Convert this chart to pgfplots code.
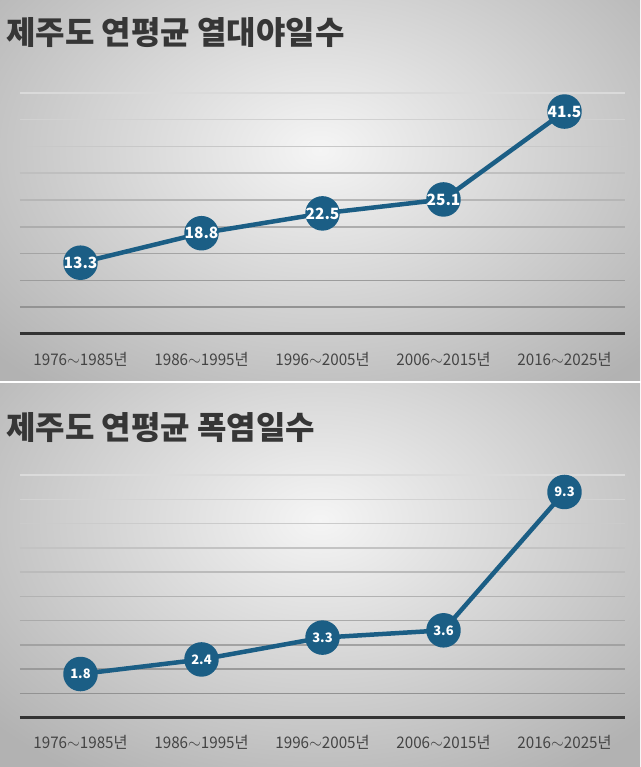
\documentclass[border=0pt]{standalone}
\usepackage{pgfplots}
\pgfplotsset{compat=1.18}
\usepackage{fontspec}
\setmainfont{Noto Sans CJK KR}

\definecolor{linecol}{HTML}{1B5E85}
\definecolor{titlecol}{HTML}{363636}
\definecolor{labelcol}{HTML}{444444}

\pgfplotsset{
  panel/.style={
    scale only axis,
    width=605pt,
    xmin=-0.5, xmax=4.5, ymin=0,
    axis x line=bottom,
    axis y line=none,
    axis line style={draw=black!80, line width=3pt, -},
    major tick length=0pt,
    xtick={0,1,2,3,4},
    xticklabels={1976$\sim$1985년,1986$\sim$1995년,1996$\sim$2005년,2006$\sim$2015년,2016$\sim$2025년},
    xticklabel style={font=\fontsize{16}{19}\selectfont, color=labelcol, anchor=center, yshift=-25pt, xscale=0.95},
    ytick=\empty,
    clip=false,
    nodes near coords,
    every node near coord/.append style={anchor=center, text=white, font=\bfseries\fontsize{#1}{#1}\selectfont},
    /pgf/number format/fixed,
    /pgf/number format/precision=1,
    /pgf/number format/fixed zerofill,
    /pgf/number format/assume math mode=true,
  },
  series/.style={color=linecol, line width=4.5pt, line join=round,
    mark=*, mark size=15pt, mark options={fill=linecol, draw=none}},
}

\begin{document}
\begin{tikzpicture}
  % backgrounds
  \fill[white] (0pt,0pt) rectangle (640pt,767pt);
  \begin{scope}
    \clip (0pt,386pt) rectangle (640pt,767pt);
    \shade[inner color=black!4, outer color=black!30] (-120pt,317pt) rectangle (760pt,917pt);
  \end{scope}
  \begin{scope}
    \clip (0pt,0pt) rectangle (640pt,383pt);
    \shade[inner color=black!4, outer color=black!30] (-120pt,-53pt) rectangle (760pt,547pt);
  \end{scope}

  % titles
  \node[anchor=west, inner sep=0pt, text=titlecol, font=\bfseries\fontsize{32}{36}\selectfont] at (6pt,734pt) {제주도 연평균 열대야일수};
  \node[anchor=west, inner sep=0pt, text=titlecol, font=\bfseries\fontsize{32}{36}\selectfont] at (6pt,339pt) {제주도 연평균 폭염일수};

  % hot nights
  \begin{axis}[panel=15.5, at={(20pt,433pt)}, anchor=south west, height=241.2pt, ymax=45]
    \pgfplotsinvokeforeach{1,...,9}{
      \draw[color=black!\fpeval{46-3.5*#1}, line width=1.5pt] (axis cs:-0.5,{5*#1}) -- (axis cs:4.5,{5*#1});
    }
    \addplot[series] coordinates {(0,13.3) (1,18.8) (2,22.5) (3,25.1) (4,41.5)};
  \end{axis}

  % heatwave days
  \begin{axis}[panel=13, at={(20pt,49.3pt)}, anchor=south west, height=242.7pt, ymax=10]
    \pgfplotsinvokeforeach{1,...,10}{
      \draw[color=black!\fpeval{46-3.2*#1}, line width=1.5pt] (axis cs:-0.5,#1) -- (axis cs:4.5,#1);
    }
    \addplot[series] coordinates {(0,1.8) (1,2.4) (2,3.3) (3,3.6) (4,9.3)};
  \end{axis}

  \pgfresetboundingbox
  \useasboundingbox (0pt,0pt) rectangle (640pt,767pt);
\end{tikzpicture}
\end{document}
